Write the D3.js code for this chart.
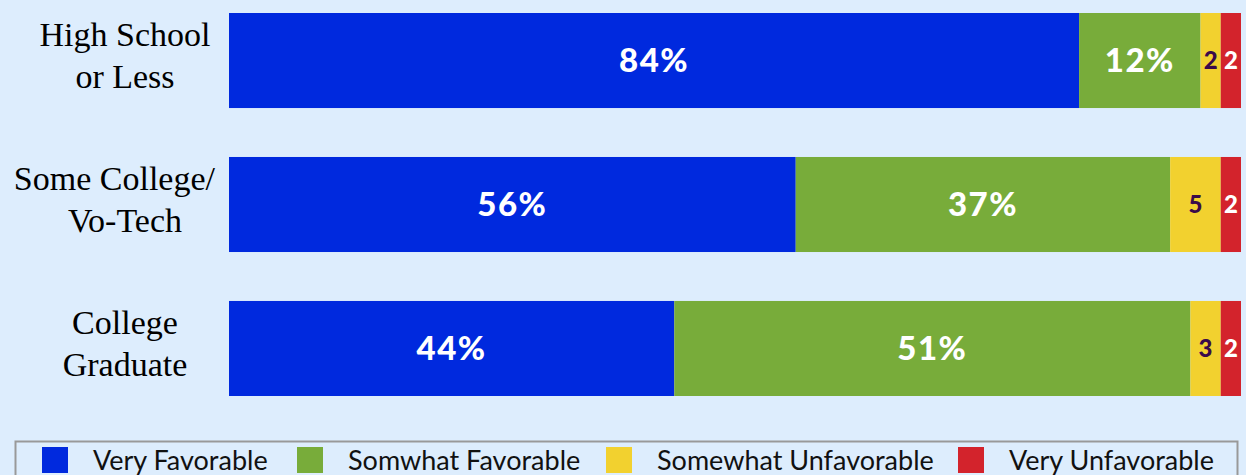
<!DOCTYPE html>
<html><head><meta charset="utf-8">
<script src="https://cdn.jsdelivr.net/npm/d3@7"></script>
<style>
html,body{margin:0;padding:0;background:#DDEDFD;}
svg{display:block;}
</style></head>
<body>
<svg id="chart" width="1246" height="475"></svg>
<script>
const categories = [["High School","or Less"],["Some College/","Vo-Tech"],["College","Graduate"]];
const seriesNames = ["Very Favorable","Somwhat Favorable","Somewhat Unfavorable","Very Unfavorable"];
const veryFavorable = [84,56,44];
const somewhatFavorable = [12,37,51];
const somewhatUnfavorable = [2,5,3];
const veryUnfavorable = [2,2,2];
const colors = ["#0029DE","#78AC3A","#F2D12F","#D3232C"];
const labelColors = ["#ffffff","#ffffff","#3A0A4A","#ffffff"];

const series = [veryFavorable,somewhatFavorable,somewhatUnfavorable,veryUnfavorable];
const rows = categories.map((c,i)=>{const o={key:i}; seriesNames.forEach((s,j)=>o[s]=series[j][i]); return o;});
const stacked = d3.stack().keys(seriesNames)(rows);

const svg = d3.select("#chart");
const x = d3.scaleLinear().domain([0,100]).range([229,1241]);
const y = d3.scaleBand().domain(d3.range(categories.length)).range([13,396]).paddingInner(0.34).paddingOuter(0);

stacked.forEach((layer,j)=>{
  const g = svg.append("g");
  g.selectAll("rect").data(layer).join("rect")
    .attr("x",d=>x(d[0])).attr("width",d=>x(d[1])-x(d[0]))
    .attr("y",(d,i)=>y(i)).attr("height",y.bandwidth())
    .attr("fill",colors[j]);
  g.selectAll("text").data(layer).join("text")
    .attr("x",d=>(x(d[0])+x(d[1]))/2)
    .attr("y",(d,i)=>y(i)+y.bandwidth()/2)
    .attr("dy","0.36em")
    .attr("text-anchor","middle")
    .attr("font-family","Lato, 'Open Sans', sans-serif")
    .attr("font-weight","900")
    .attr("font-size", j<2 ? 33 : 24)
    .attr("letter-spacing", j<2 ? 1.5 : 0)
    .attr("fill",labelColors[j])
    .text((d,i)=> j<2 ? series[j][i]+"%" : series[j][i]);
});

// category labels
categories.forEach((lines,i)=>{
  const cy = y(i)+y.bandwidth()/2;
  lines.forEach((l,k)=>{
    const t = svg.append("text").attr("text-anchor","middle")
      .attr("font-family","'Liberation Serif', 'Times New Roman', serif")
      .attr("font-size",34).attr("fill","#000")
      .attr("x",125).attr("y",cy + (k-0.5)*42 + 6.5).text(l);
    const w = t.node().getComputedTextLength();
    if (125 + w/2 > 215) t.attr("x", 215 - w/2);
  });
});

// legend
svg.append("rect").attr("x",15.5).attr("y",441.5).attr("width",1222).attr("height",50)
  .attr("fill","none").attr("stroke","#999").attr("stroke-width",2);
const legX = [42,297,606,958];
seriesNames.forEach((s,j)=>{
  svg.append("rect").attr("x",legX[j]).attr("y",447).attr("width",26).attr("height",26).attr("fill",colors[j]);
  svg.append("text").attr("x",legX[j]+51).attr("y",470)
    .attr("font-family","Lato, 'Open Sans', sans-serif").attr("font-size",27).attr("fill","#111").text(s);
});
</script>
</body></html>
